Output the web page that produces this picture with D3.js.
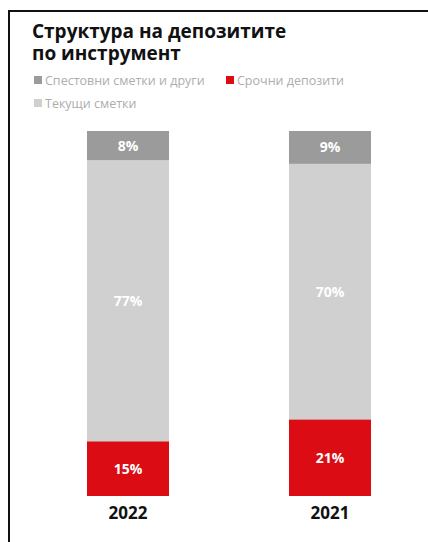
<!DOCTYPE html>
<html>
<head>
<meta charset="utf-8">
<script src="https://cdn.jsdelivr.net/npm/d3@7"></script>
<style>
  body { margin: 0; background: #fff; }
  text { font-family: "Open Sans", "Noto Sans", sans-serif; }
</style>
</head>
<body>
<script>
// data
const years = ['2022', '2021'];
const seriesKeys = ['srochni', 'tekushti', 'spestovni'];
const seriesNames = ['Срочни депозити', 'Текущи сметки', 'Спестовни сметки и други'];
const srochni = [15, 21];
const tekushti = [77, 70];
const spestovni = [8, 9];
const colors = ['#dc0c15', '#d0d0d0', '#9b9b9b'];

const rows = years.map((y, i) => ({
    year: y, srochni: srochni[i], tekushti: tekushti[i], spestovni: spestovni[i]
}));

const W = 428, H = 542;
let svg = d3.select('body').append('svg')
    .attr('width', W)
    .attr('height', H);

// frame
svg.append('path')
    .attr('d', `M9,${H} V11 H${W}`)
    .attr('fill', 'none')
    .attr('stroke', '#111')
    .attr('stroke-width', 2);

// title
const title = svg.append('text')
    .attr('x', 32)
    .attr('y', 38)
    .attr('font-size', 19)
    .attr('font-weight', 'bold')
    .attr('fill', '#111');
title.append('tspan').attr('x', 32).text('Структура на депозитите');
title.append('tspan').attr('x', 32).attr('dy', 22).text('по инструмент');

// legend
const legendItems = [
    {name: seriesNames[2], color: colors[2], x: 34, y: 81},
    {name: seriesNames[0], color: colors[0], x: 226, y: 81},
    {name: seriesNames[1], color: colors[1], x: 34, y: 104}
];
let lg = svg.append('g').selectAll('g')
    .data(legendItems)
    .enter()
    .append('g')
    .attr('transform', (d) => `translate(${d.x},${d.y})`);
lg.append('rect')
    .attr('x', 0).attr('y', -5)
    .attr('width', 8).attr('height', 8)
    .attr('fill', (d) => d.color);
lg.append('text')
    .attr('x', 11)
    .attr('y', 0)
    .attr('dy', '0.35em')
    .attr('font-size', 12.5)
    .attr('fill', '#adadad')
    .text((d) => d.name);

// scales
const x = d3.scaleBand()
    .domain(years)
    .range([87, 371])
    .paddingInner(0.594)
    .paddingOuter(0);
const y = d3.scaleLinear()
    .domain([0, 100])
    .range([496, 131]);

const stacked = d3.stack().keys(seriesKeys)(rows);

let layers = svg.append('g').selectAll('g')
    .data(stacked)
    .enter()
    .append('g')
    .attr('fill', (d, i) => colors[i]);

layers.selectAll('rect')
    .data((d) => d)
    .enter()
    .append('rect')
    .attr('x', (d) => x(d.data.year))
    .attr('y', (d) => y(d[1]))
    .attr('width', x.bandwidth())
    .attr('height', (d) => y(d[0]) - y(d[1]));

layers.selectAll('text')
    .data((d) => d)
    .enter()
    .append('text')
    .attr('x', (d) => x(d.data.year) + x.bandwidth() / 2)
    .attr('y', (d) => y((d[0] + d[1]) / 2))
    .attr('dy', '0.35em')
    .attr('text-anchor', 'middle')
    .attr('font-size', 14)
    .attr('font-weight', 'bold')
    .attr('fill', '#fff')
    .text((d) => (d[1] - d[0]) + '%');

// x axis labels
const xAxis = svg.append('g')
    .attr('transform', 'translate(0,496)')
    .call(d3.axisBottom(x).tickSize(0).tickPadding(11));
xAxis.select('.domain').remove();
xAxis.selectAll('text')
    .attr('font-size', 17)
    .attr('font-weight', 'bold')
    .attr('fill', '#111')
    .attr('font-family', '"Open Sans", "Noto Sans", sans-serif');
</script>
</body>
</html>
